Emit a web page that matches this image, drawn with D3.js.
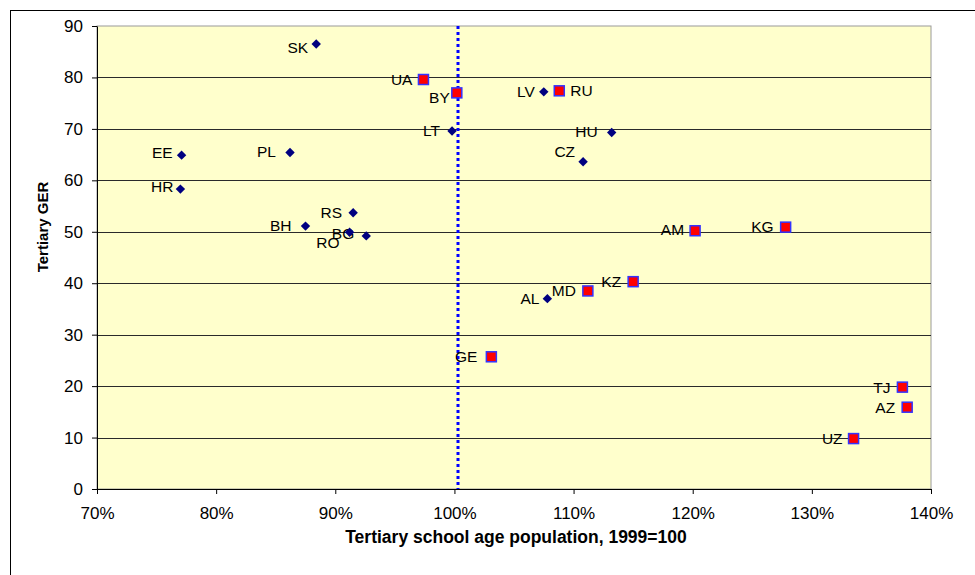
<!DOCTYPE html>
<html>
<head>
<meta charset="utf-8">
<script src="https://cdn.jsdelivr.net/npm/d3@7"></script>
<style>
  body { margin: 0; background: #fff; }
  svg { display: block; font-family: "Liberation Sans", Arial, sans-serif; }
</style>
</head>
<body>
<div id="chart"></div>
<script>
// Diamonds (navy)
const diamondCodes = ['SK', 'EE', 'HR', 'PL', 'BH', 'RS', 'RO', 'BG', 'LT', 'LV', 'HU', 'CZ', 'AL'];
const diamondX = [88.4, 77.1, 77.0, 86.2, 87.5, 91.5, 91.2, 92.6, 99.8, 107.5, 113.2, 110.8, 107.8];
const diamondY = [86.5, 64.9, 58.3, 65.4, 51.1, 53.7, 49.9, 49.2, 69.6, 77.2, 69.3, 63.6, 37.0];

// Squares (red)
const squareCodes = ['UA', 'BY', 'RU', 'AM', 'KG', 'KZ', 'MD', 'GE', 'TJ', 'AZ', 'UZ'];
const squareX = [97.4, 100.2, 108.8, 120.2, 127.8, 115.0, 111.2, 103.1, 137.6, 138.0, 133.5];
const squareY = [79.6, 77.0, 77.4, 50.2, 50.9, 40.3, 38.5, 25.7, 19.8, 15.9, 9.8];

const xTicks = [0.7, 0.8, 0.9, 1.0, 1.1, 1.2, 1.3, 1.4];
const yTicks = [0, 10, 20, 30, 40, 50, 60, 70, 80, 90];
const refLine = 100.3;

// label placement tweaks (pixels), default is left of the marker
const labelOffset = {
  SK: [-8, 4], EE: [-9, -3], HR: [-7, -3], PL: [-14, -1], BH: [-14, -1],
  RO: [-10, 10], BG: [-12, -2], BY: [-7, 5], LT: [-12, 0], LV: [-9, 0],
  RU: [11, 0], HU: [-14, -1], CZ: [-8, -10], AM: [-11, -1], KG: [-12, -1],
  AL: [-8, 0], GE: [-14, 0], KZ: [-12, 0], MD: [-12, 0], TJ: [-12, 0], AZ: [-12, 0]
};

const width = 975, height = 575;
const margin = { top: 26, right: 44, bottom: 86, left: 97 };

const diamonds = diamondCodes.map((c, i) => ({ code: c, x: diamondX[i], y: diamondY[i], shape: 'diamond' }));
const squares = squareCodes.map((c, i) => ({ code: c, x: squareX[i], y: squareY[i], shape: 'square' }));
const all = diamonds.concat(squares);

const xScale = d3.scaleLinear().domain([0.7, 1.4]).range([margin.left, width - margin.right]);
const yScale = d3.scaleLinear().domain([0, 90]).range([height - margin.bottom, margin.top]);

const svg = d3.select('#chart').append('svg')
  .attr('width', width)
  .attr('height', height);

// outer chart frame (runs past the picture on right and bottom)
svg.append('rect')
  .attr('x', 10.5).attr('y', 10.5)
  .attr('width', 1000).attr('height', 600)
  .attr('fill', '#fff')
  .attr('stroke', '#000');

// plot area
svg.append('rect')
  .attr('x', xScale(0.7)).attr('y', yScale(90))
  .attr('width', xScale(1.4) - xScale(0.7))
  .attr('height', yScale(0) - yScale(90))
  .attr('fill', '#FFFFCC')
  .attr('stroke', '#9a9a9a');

// gridlines
svg.append('g')
  .selectAll('line')
  .data(yTicks.filter(d => d > 0 && d < 90))
  .join('line')
  .attr('x1', xScale(0.7)).attr('x2', xScale(1.4))
  .attr('y1', d => Math.round(yScale(d)) + 0.5)
  .attr('y2', d => Math.round(yScale(d)) + 0.5)
  .attr('stroke', '#2a2a2a');

// axes
const yAxis = svg.append('g')
  .attr('transform', `translate(${xScale(0.7)},0)`)
  .call(d3.axisLeft(yScale).tickValues(yTicks).tickSize(5).tickPadding(9).tickSizeOuter(0));

const xAxis = svg.append('g')
  .attr('transform', `translate(0,${yScale(0)})`)
  .call(d3.axisBottom(xScale).tickValues(xTicks).tickFormat(d3.format('.0%')).tickSize(5).tickPadding(13).tickSizeOuter(0));

[xAxis, yAxis].forEach(ax => {
  ax.selectAll('text').attr('font-size', 17).attr('fill', '#000')
    .attr('font-family', '"Liberation Sans", Arial, sans-serif');
  ax.selectAll('line').attr('stroke', '#000');
  ax.select('.domain').attr('stroke', '#000');
});

// dotted reference line
svg.append('line')
  .attr('x1', xScale(refLine / 100)).attr('x2', xScale(refLine / 100))
  .attr('y1', yScale(90)).attr('y2', yScale(0))
  .attr('stroke', '#0000FF')
  .attr('stroke-width', 3)
  .attr('stroke-dasharray', '3,3');

// labels
svg.append('g')
  .selectAll('text')
  .data(all)
  .join('text')
  .attr('x', d => xScale(d.x / 100) + (labelOffset[d.code] || [-11, 0])[0])
  .attr('y', d => yScale(d.y) + (labelOffset[d.code] || [-11, 0])[1])
  .attr('dy', '0.35em')
  .attr('text-anchor', d => (labelOffset[d.code] || [-11, 0])[0] > 0 ? 'start' : 'end')
  .attr('font-size', 15.5)
  .attr('fill', '#000')
  .text(d => d.code);

// markers
svg.append('g')
  .selectAll('path')
  .data(diamonds)
  .join('path')
  .attr('transform', d => `translate(${xScale(d.x / 100)},${yScale(d.y)})`)
  .attr('d', 'M0,-4.7L4.7,0L0,4.7L-4.7,0Z')
  .attr('fill', '#000080');

svg.append('g')
  .selectAll('rect')
  .data(squares)
  .join('rect')
  .attr('x', d => xScale(d.x / 100) - 5)
  .attr('y', d => yScale(d.y) - 5)
  .attr('width', 10).attr('height', 10)
  .attr('fill', '#FF0000')
  .attr('stroke', '#3333FF')
  .attr('stroke-width', 1.5);

// axis titles
svg.append('text')
  .attr('x', 516)
  .attr('y', 543)
  .attr('text-anchor', 'middle')
  .attr('font-size', 17.5)
  .attr('font-weight', 'bold')
  .text('Tertiary school age population, 1999=100');

svg.append('text')
  .attr('transform', 'translate(48,227) rotate(-90)')
  .attr('text-anchor', 'middle')
  .attr('font-size', 15)
  .attr('font-weight', 'bold')
  .text('Tertiary GER');
</script>
</body>
</html>
